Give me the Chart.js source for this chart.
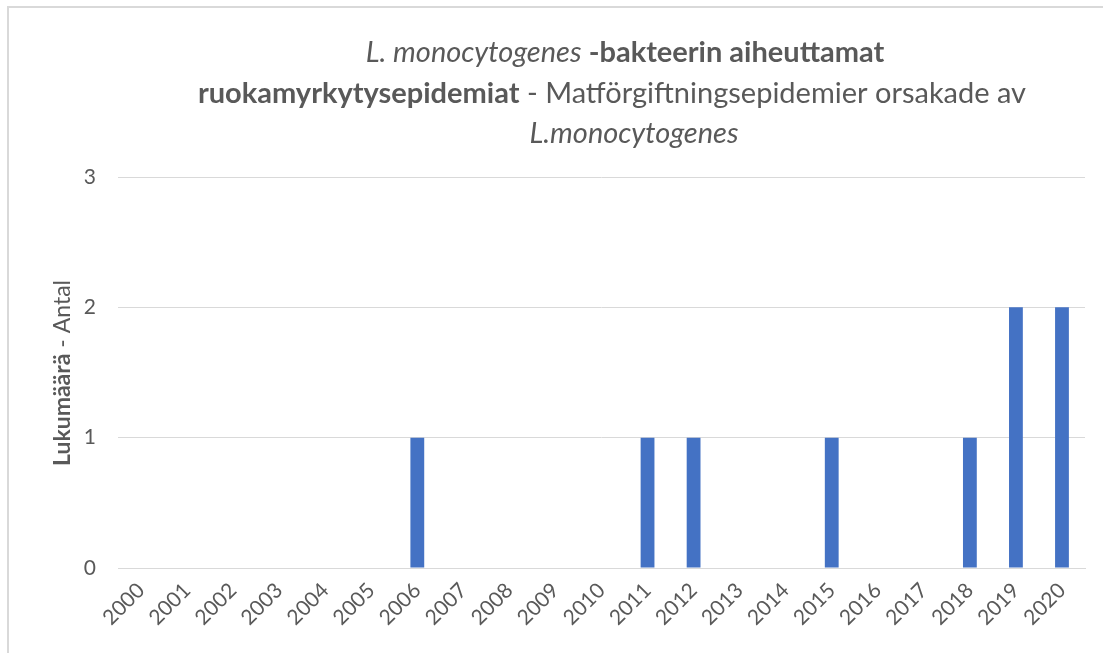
<!DOCTYPE html>
<html lang="fi">
<head>
    <meta charset="UTF-8">
    <title>L. monocytogenes</title>
    <script src="https://cdn.jsdelivr.net/npm/chart.js"></script>
    <style>
        html, body { margin: 0; padding: 0; background: #ffffff; overflow: hidden; }
        .frame { position: absolute; left: 7px; top: 6px; width: 1120px; height: 680px; border: 2px solid #d9d9d9; }
        .chart-box { position: absolute; left: 0; top: 0; width: 1103px; height: 653px; }
    </style>
</head>
<body>
    <div class="frame"></div>
    <div class="chart-box">
        <canvas id="myChart"></canvas>
    </div>
    <script>
        // vuodet ja epidemioiden lukumäärä
        const years = ['2000', '2001', '2002', '2003', '2004', '2005', '2006', '2007', '2008', '2009', '2010',
                       '2011', '2012', '2013', '2014', '2015', '2016', '2017', '2018', '2019', '2020'];
        const outbreaks = [0, 0, 0, 0, 0, 0, 1, 0, 0, 0, 0, 1, 1, 0, 0, 1, 0, 0, 1, 2, 2];
        const yTicks = [0, 1, 2, 3];

        const fontFamily = 'Lato, "Open Sans", sans-serif';
        const textColor = '#595959';

        const titleLines = [
            [{ t: 'L. monocytogenes', s: 'italic' }, { t: ' -bakteerin aiheuttamat', s: 'bold' }],
            [{ t: 'ruokamyrkytysepidemiat', s: 'bold' }, { t: ' - Matförgiftningsepidemier orsakade av', s: 'normal' }],
            [{ t: 'L.monocytogenes', s: 'italic' }]
        ];
        const yTitle = [{ t: 'Lukumäärä', s: 'bold' }, { t: ' - Antal', s: 'normal' }];

        function drawMixed(ctx, parts, cx, cy, size) {
            let total = 0;
            parts.forEach(p => {
                ctx.font = p.s + ' ' + size + 'px ' + fontFamily;
                p.w = ctx.measureText(p.t).width;
                total += p.w;
            });
            let x = cx - total / 2;
            parts.forEach(p => {
                ctx.font = p.s + ' ' + size + 'px ' + fontFamily;
                ctx.fillText(p.t, x, cy);
                x += p.w;
            });
        }

        const textPlugin = {
            id: 'mixedText',
            afterDraw(chart) {
                const ctx = chart.ctx;
                ctx.save();
                ctx.fillStyle = textColor;
                ctx.textAlign = 'left';
                ctx.textBaseline = 'middle';
                drawMixed(ctx, titleLines[0], 625, 53, 29);
                drawMixed(ctx, titleLines[1], 612, 94, 29);
                drawMixed(ctx, titleLines[2], 634, 134, 29);
                ctx.translate(63, 373);
                ctx.rotate(-Math.PI / 2);
                drawMixed(ctx, yTitle, 0, 0, 23);
                ctx.restore();
            }
        };

        new Chart(document.getElementById('myChart'), {
            type: 'bar',
            data: {
                labels: years,
                datasets: [{
                    label: 'Lukumäärä',
                    data: outbreaks,
                    backgroundColor: '#4472C4',
                    barPercentage: 0.3,
                    categoryPercentage: 1.0
                }]
            },
            options: {
                responsive: true,
                maintainAspectRatio: false,
                animation: false,
                layout: { padding: { top: 177, right: 18, left: 0, bottom: 0 } },
                plugins: {
                    legend: { display: false },
                    tooltip: { enabled: false }
                },
                scales: {
                    x: {
                        afterFit: (scale) => { scale.height = 85; },
                        grid: { display: false },
                        border: { color: '#d9d9d9', width: 1 },
                        ticks: {
                            color: textColor,
                            font: { family: fontFamily, size: 21 },
                            maxRotation: 45,
                            minRotation: 45,
                            autoSkip: false,
                            padding: 2
                        }
                    },
                    y: {
                        min: 0,
                        max: 3,
                        afterFit: (scale) => { scale.width = 118; },
                        afterBuildTicks: (scale) => { scale.ticks = yTicks.map(v => ({ value: v })); },
                        grid: { color: '#d9d9d9', drawTicks: false, lineWidth: 1 },
                        border: { display: false },
                        ticks: {
                            color: textColor,
                            font: { family: fontFamily, size: 21 },
                            padding: 22
                        }
                    }
                }
            },
            plugins: [textPlugin]
        });
    </script>
</body>
</html>
